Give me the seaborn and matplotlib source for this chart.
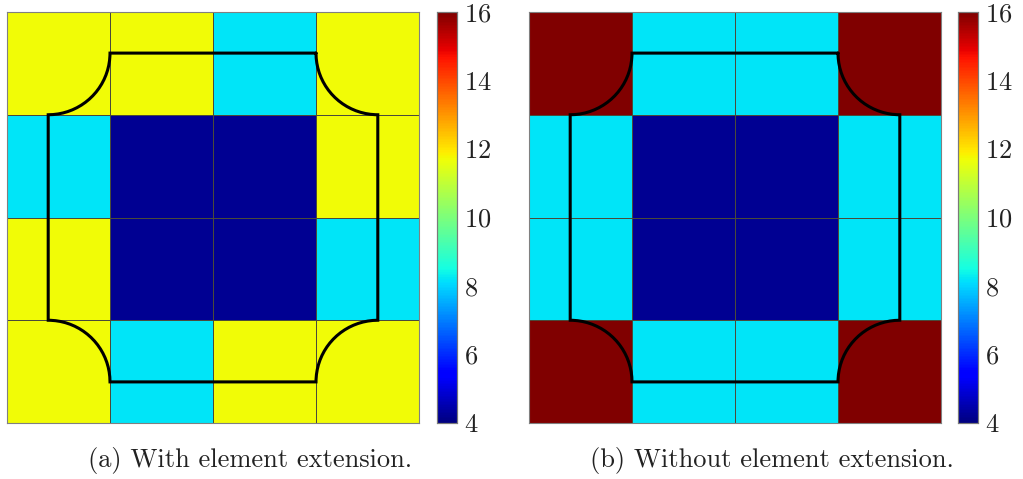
import numpy as np
import pandas as pd
import seaborn as sns
from matplotlib import pyplot as plt

# element counts per cell (4x4 background mesh)
with_ext = [[11.7, 11.7, 8.2, 11.7],
            [8.2, 4.2, 4.2, 11.7],
            [11.7, 4.2, 4.2, 8.2],
            [11.7, 8.2, 11.7, 11.7]]
without_ext = [[16.0, 8.2, 8.2, 16.0],
               [8.2, 4.2, 4.2, 8.2],
               [8.2, 4.2, 4.2, 8.2],
               [16.0, 8.2, 8.2, 16.0]]
captions = ["(a) With element extension.", "(b) Without element extension."]
cbar_ticks = [4, 6, 8, 10, 12, 14, 16]
vmin, vmax = 4, 16

# domain boundary: square inset with concave quarter-circle corners
inset = 0.4
radius = 0.6

sns.set_style("white")
plt.rcParams['font.family'] = ['cmr10', 'DejaVu Serif']
plt.rcParams['axes.formatter.use_mathtext'] = True


def boundary(n=4, a=inset, r=radius):
    lo, hi = a, n - a
    pts = []
    corners = [((hi, lo), 180, 90), ((hi, hi), 270, 180),
               ((lo, hi), 360, 270), ((lo, lo), 90, 0)]
    for (cx, cy), t0, t1 in corners:
        th = np.radians(np.linspace(t0, t1, 40))
        pts += list(zip(cx + r * np.cos(th), cy + r * np.sin(th)))
    pts.append(pts[0])
    return np.array(pts)


fig = plt.figure(figsize=(10.23, 4.79), dpi=100)
W, H = 1023, 479
panels = [(with_ext, 7, 437, 250), (without_ext, 529, 958, 772)]

for (vals, x0, cx0, tx), cap in zip(panels, captions):
    ax = fig.add_axes([x0 / W, (H - 423) / H, 412 / W, 411 / H])
    cax = fig.add_axes([cx0 / W, (H - 423) / H, 20 / W, 411 / H])
    df = pd.DataFrame(vals)
    sns.heatmap(df, ax=ax, cbar_ax=cax, cmap='jet', vmin=vmin, vmax=vmax,
                linewidths=0.5, linecolor='#4a4a3a', xticklabels=False,
                yticklabels=False, square=False)
    for s in ax.spines.values():
        s.set_visible(True)
        s.set_color('#808080')
        s.set_linewidth(0.8)
    b = boundary()
    ax.plot(b[:, 0], b[:, 1], color='black', lw=2.2, solid_joinstyle='miter')

    cax.set_yticks(cbar_ticks)
    cax.tick_params(axis='y', direction='in', length=4, width=0.6,
                    labelsize=19, pad=5, colors='#222222')
    for s in cax.spines.values():
        s.set_visible(True)
        s.set_color('#7a7a7a')
        s.set_linewidth(0.8)

    fig.text(tx / W, (H - 461) / H, cap, ha='center', va='center',
             fontsize=19, color='#222222')

fig.savefig('out.png', dpi=100)
